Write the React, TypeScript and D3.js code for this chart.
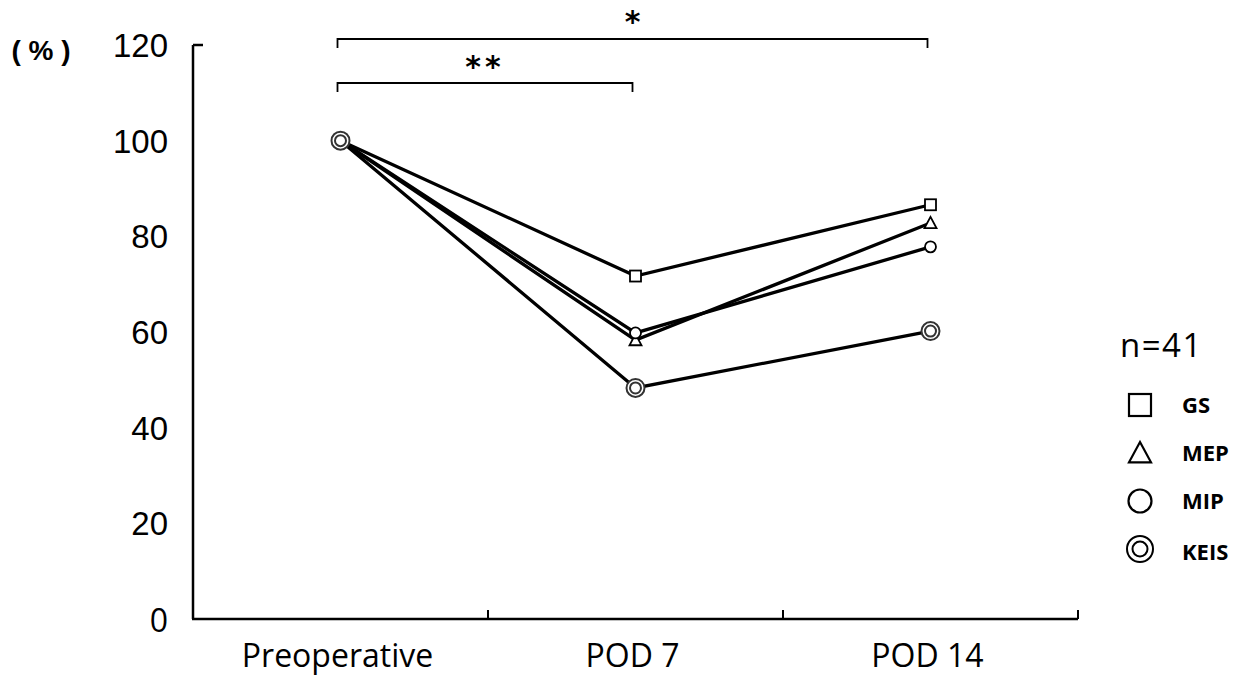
import React, { useEffect, useRef } from "react";
import * as d3 from "d3";

const categories = ["Preoperative", "POD 7", "POD 14"];
const yTicks = [0, 20, 40, 60, 80, 100, 120];
const gs = [100, 71.7, 86.6];
const mep = [100, 58.3, 82.8];
const mip = [100, 59.8, 77.8];
const keis = [100, 48.3, 60.2];
const seriesNames = ["GS", "MEP", "MIP", "KEIS"];

const W = 1247;
const H = 678;

function drawMarker(g: any, kind: string, x: number, y: number, big: boolean) {
  const sw = big ? 2.2 : 1.8;
  if (kind === "GS") {
    const a = big ? 11 : 5.5;
    g.append("rect")
      .attr("x", x - a).attr("y", y - a)
      .attr("width", 2 * a).attr("height", 2 * a)
      .attr("fill", "#fff").attr("stroke", "#000").attr("stroke-width", sw);
  } else if (kind === "MEP") {
    const a = big ? 11 : 6;
    g.append("path")
      .attr("d", `M${x},${y - a}L${x + a},${y + a * 0.85}L${x - a},${y + a * 0.85}Z`)
      .attr("fill", "#fff").attr("stroke", "#000").attr("stroke-width", sw);
  } else if (kind === "MIP") {
    g.append("circle").attr("cx", x).attr("cy", y).attr("r", big ? 11.5 : 5.5)
      .attr("fill", "#fff").attr("stroke", "#000").attr("stroke-width", sw);
  } else {
    const col = big ? "#000" : "#333";
    g.append("circle").attr("cx", x).attr("cy", y).attr("r", big ? 13 : 9)
      .attr("fill", "#fff").attr("stroke", col).attr("stroke-width", 2);
    g.append("circle").attr("cx", x).attr("cy", y).attr("r", big ? 7.5 : 5.5)
      .attr("fill", "#fff").attr("stroke", col).attr("stroke-width", 2);
  }
}

export default function App() {
  const ref = useRef<SVGSVGElement>(null);

  useEffect(() => {
    const svg = d3.select(ref.current);
    svg.selectAll("*").remove();

    const left = 193, right = 1078, top = 45, bottom = 619;
    const x = d3.scaleBand().domain(categories).range([left, right]);
    const y = d3.scaleLinear().domain([0, 120]).range([bottom, top]);
    const cx = (c: string) => (x(c) as number) + x.bandwidth() / 2;

    const arial = "'Liberation Sans', Arial, sans-serif";
    const calibri = "'Open Sans', Lato, sans-serif";

    // axes
    svg.append("line")
      .attr("x1", left).attr("x2", left).attr("y1", top).attr("y2", bottom)
      .attr("stroke", "#000").attr("stroke-width", 2.5);
    svg.append("line")
      .attr("x1", left).attr("x2", left + 10).attr("y1", top).attr("y2", top)
      .attr("stroke", "#000").attr("stroke-width", 2.5);
    svg.append("line")
      .attr("x1", left - 1).attr("x2", right).attr("y1", bottom).attr("y2", bottom)
      .attr("stroke", "#000").attr("stroke-width", 2.5);
    categories.slice(1).forEach((c) => {
      const xx = x(c) as number;
      svg.append("line")
        .attr("x1", xx).attr("x2", xx).attr("y1", bottom).attr("y2", bottom - 9)
        .attr("stroke", "#000").attr("stroke-width", 2);
    });
    svg.append("line")
      .attr("x1", right).attr("x2", right).attr("y1", bottom).attr("y2", bottom - 9)
      .attr("stroke", "#000").attr("stroke-width", 2);

    yTicks.forEach((t) => {
      svg.append("text")
        .attr("x", 168).attr("y", y(t) + (t === 0 ? 13 : 12))
        .attr("text-anchor", "end")
        .attr("font-family", t === 0 ? calibri : arial)
        .attr("font-size", t === 0 ? 32 : 33)
        .text(String(t));
    });

    svg.append("text")
      .attr("x", 41).attr("y", 60)
      .attr("text-anchor", "middle")
      .attr("font-family", arial).attr("font-weight", "bold")
      .attr("font-size", 28)
      .attr("xml:space", "preserve")
      .text("( % )");

    categories.forEach((c) => {
      svg.append("text")
        .attr("x", cx(c) - 3).attr("y", 667)
        .attr("text-anchor", "middle")
        .attr("font-family", calibri).attr("font-size", 32)
        .text(c);
    });

    // significance brackets
    const bracket = (a: string, b: string, yy: number, label: string, base: number) => {
      svg.append("path")
        .attr("d", `M${cx(a) - 3},${yy + 9}V${yy}H${cx(b) - 3}V${yy + 9}`)
        .attr("fill", "none").attr("stroke", "#000").attr("stroke-width", 1.8);
      svg.append("text")
        .attr("x", (cx(a) + cx(b)) / 2 - 3).attr("y", base)
        .attr("text-anchor", "middle")
        .attr("font-family", "'DejaVu Sans', sans-serif").attr("font-size", 30)
        .attr("font-weight", "bold")
        .attr("letter-spacing", label.length > 1 ? 4 : 0)
        .text(label);
    };
    bracket(categories[0], categories[2], 39, "*", 32);
    bracket(categories[0], categories[1], 83, "**", 77);

    const data = [gs, mep, mip, keis];
    const line = d3.line<number>()
      .x((_, i) => cx(categories[i]))
      .y((d) => y(d));

    const g = svg.append("g");
    data.forEach((vals) => {
      g.append("path")
        .attr("d", line(vals) as string)
        .attr("fill", "none").attr("stroke", "#000").attr("stroke-width", 3.3);
    });
    data.forEach((vals, si) => {
      vals.forEach((v, i) => {
        drawMarker(g, seriesNames[si], cx(categories[i]), y(v), false);
      });
    });

    // legend
    svg.append("text")
      .attr("x", 1120).attr("y", 357)
      .attr("font-family", calibri).attr("font-size", 33)
      .attr("letter-spacing", 1.5)
      .text("n=41");
    const legendY = [405, 453, 501, 549];
    seriesNames.forEach((n, i) => {
      drawMarker(svg, n, 1140, legendY[i], true);
      svg.append("text")
        .attr("x", 1182).attr("y", legendY[i] + 8 + (n === "KEIS" ? 3 : 0))
        .attr("font-family", calibri).attr("font-weight", "bold")
        .attr("font-size", 22)
        .text(n);
    });
  }, []);

  return (
    <svg ref={ref} width={W} height={H} style={{ position: "absolute", left: 0, top: 0, background: "#fff" }} />
  );
}
